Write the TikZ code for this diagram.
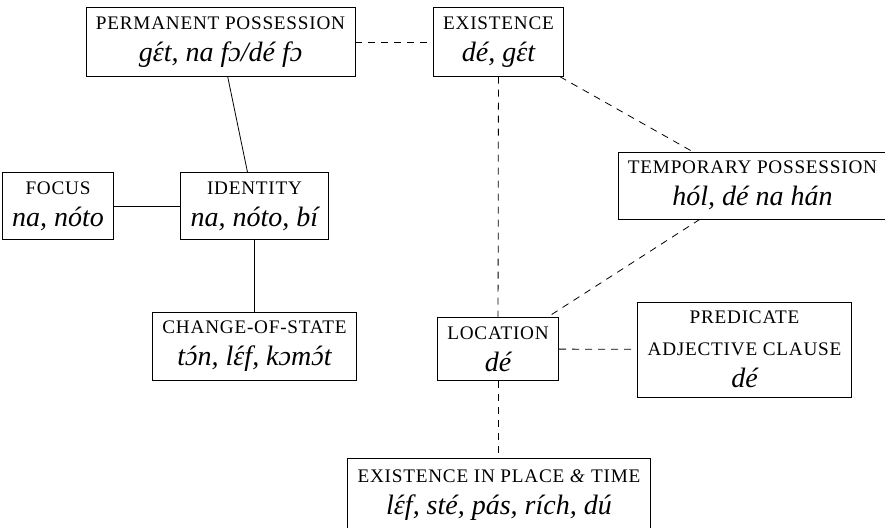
\documentclass[tikz,border=0pt]{standalone}
\usepackage{fontspec}
\setmainfont{Liberation Serif}
\newcommand{\capsline}[1]{{\fontsize{9.6}{16}\selectfont\upshape\addfontfeature{LetterSpace=4}#1}}
\newcommand{\acu}[1]{\accent"00B4 #1}
\begin{document}
\begin{tikzpicture}[x=0.5pt, y=-0.5pt,
    sense/.style={draw, rectangle, align=center, inner xsep=5pt, inner ysep=4.5pt,
      font=\fontsize{14}{16}\selectfont\itshape},
    strong/.style={thin},
    weak/.style={thin, dash pattern=on 3.5pt off 3pt}]

    \useasboundingbox (0,0) rectangle (885,528);

    % === top row ===
    \node[sense] (perm)  at (220.5, 42) {\capsline{PERMANENT POSSESSION}\\g\acu{ɛ}t, na fɔ/dé fɔ};
    \node[sense] (exist) at (498.5, 42) {\capsline{EXISTENCE}\\dé, g\acu{ɛ}t};

    % === middle rows ===
    \node[sense] (focus)  at (58, 206)    {\capsline{FOCUS}\\na, nóto};
    \node[sense] (ident)  at (254.5, 206) {\capsline{IDENTITY}\\na, nóto, bí};
    \node[sense] (temp)   at (752.5, 185.5) {\capsline{TEMPORARY POSSESSION}\\hól, dé na hán};
    \node[sense] (change) at (254.5, 346.5) {\capsline{CHANGE-OF-STATE}\\t\acu{ɔ}n, l\acu{ɛ}f, kɔm\acu{ɔ}t};
    \node[sense] (loc)    at (498, 349)   {\capsline{LOCATION}\\dé};
    \node[sense] (pred)   at (744.5, 349.5) {\capsline{PREDICATE}\\\capsline{ADJECTIVE CLAUSE}\\dé};

    % === bottom row ===
    \node[sense, anchor=north, minimum height=36.5pt] (place) at (499, 458)
      {\capsline{EXISTENCE IN PLACE \textit{\&} TIME}\\l\acu{ɛ}f, sté, pás, rích, dú};

    % === links ===
    % perm -- ident -- change, focus -- ident
    \draw[strong] (perm) -- (ident);
    \draw[strong] (focus) -- (ident);
    \draw[strong] (ident) -- (change);

    % perm -- exist
    \draw[weak] (perm) -- (exist);

    % exist -- temp, exist -- loc
    \draw[weak] (exist) -- (temp);
    \draw[weak] (exist) -- (loc);

    % temp -- loc, loc -- pred
    \draw[weak] (temp) -- (loc);
    \draw[weak] (loc) -- (pred);

    % loc -- place
    \draw[weak] (loc.south) -- (loc.south |- place.north);

  \end{tikzpicture}
\end{document}
